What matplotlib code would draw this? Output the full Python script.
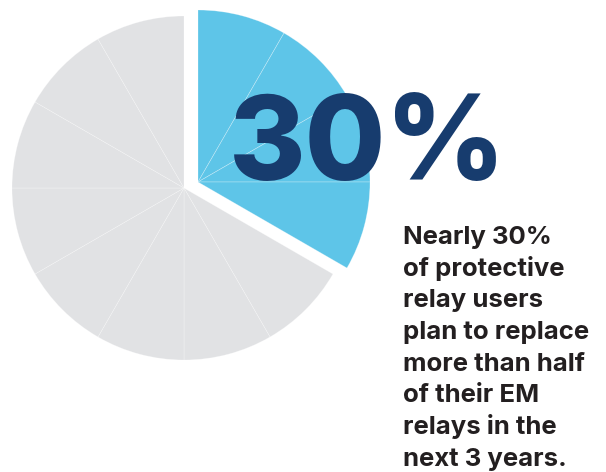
import matplotlib
matplotlib.use("Agg")
import matplotlib.pyplot as plt

# ---- data ----
segments = [1, 1, 1, 1, 1, 1, 1, 1, 1, 1, 1, 1]   # 12 equal pie segments
highlighted = [True, True, True, True, False, False, False, False, False, False, False, False]
big_label = "30%"
body_lines = ["Nearly 30%", "of protective", "relay users", "plan to replace",
              "more than half", "of their EM", "relays in the", "next 3 years."]

BLUE = "#5EC5E8"
GREY = "#E1E2E4"
NAVY = "#173C6E"
DARK = "#231F20"

W, H = 606, 472
fig = plt.figure(figsize=(W / 100, H / 100), dpi=100)
ax = fig.add_axes([0, 0, 1, 1])

cx, cy = 184, H - 188
radius = 172
colors = [BLUE if h else GREY for h in highlighted]
wedges, _ = ax.pie(segments, colors=colors, startangle=90, counterclock=False,
                   radius=radius, center=(cx, cy), frame=True,
                   wedgeprops=dict(edgecolor=(1, 1, 1, 0.35), linewidth=0.5))
ax.set_xlim(0, W)
ax.set_ylim(0, H)
ax.set_aspect("equal")
ax.axis("off")
dx, dy = 14, 6
for w, h in zip(wedges, highlighted):
    if h:
        w.set_center((cx + dx, cy + dy))

fam = ["Inter", "DejaVu Sans"]
ax.text(229, H - 180, big_label, fontsize=84, fontweight="heavy", color=NAVY,
        family=fam, ha="left", va="baseline")

y0 = 244
pitch = 31.7
for i, line in enumerate(body_lines):
    ax.text(403, H - (y0 + i * pitch), line, fontsize=18.5, fontweight="bold",
            color=DARK, family=fam, ha="left", va="baseline")

fig.savefig("out.png", dpi=100)
